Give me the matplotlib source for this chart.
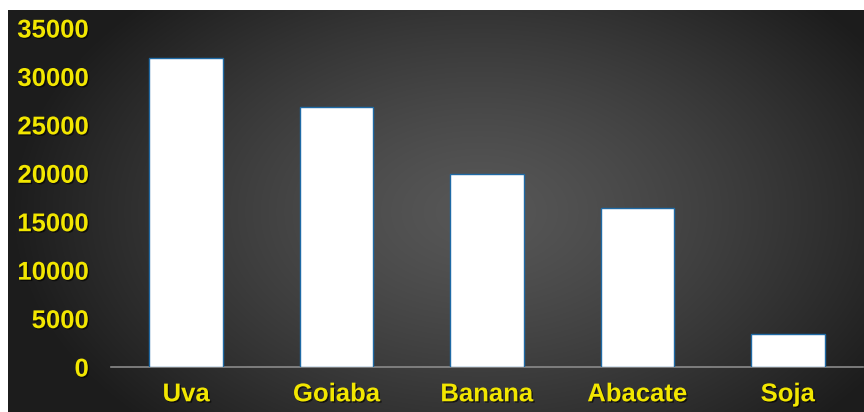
import numpy as np
import matplotlib.pyplot as plt
import matplotlib.patheffects as pe

categorias = ['Uva', 'Goiaba', 'Banana', 'Abacate', 'Soja']
valores = [31900, 26800, 19900, 16450, 3400]
yticks = [0, 5000, 10000, 15000, 20000, 25000, 30000, 35000]

amarelo = '#f2e600'
sombra = [pe.withSimplePatchShadow(offset=(1, -1), shadow_rgbFace='black', alpha=0.6)]

fig = plt.figure(figsize=(8.64, 4.12), dpi=100)
fig.patch.set_facecolor('white')

# fundo com gradiente radial
bg = fig.add_axes([8/864, 0, 1 - 8/864, 1 - 10/412], zorder=0)
ny, nx = 200, 420
yy, xx = np.mgrid[0:ny, 0:nx]
cx, cy = nx * 0.55, ny * 0.5
r = np.sqrt(((xx - cx) / (nx * 0.55))**2 + ((yy - cy) / (ny * 0.75))**2)
shade = 0.34 - 0.23 * np.clip(r, 0, 1)**1.3
img = np.dstack([shade, shade, shade])
bg.imshow(img, aspect='auto', extent=[0, 1, 0, 1], interpolation='bilinear')
bg.set_axis_off()

ax = fig.add_axes([111/864, 1 - 367/412, 752/864, (367 - 28)/412], zorder=1)
ax.patch.set_alpha(0)

x = np.arange(len(categorias))
ax.bar(x, valores, width=0.49, color='white', edgecolor='#1f6aa5', linewidth=1.0, zorder=3)

ax.set_xlim(-0.5, len(categorias) - 0.5)
ax.set_ylim(0, 35000)
ax.set_yticks(yticks)
ax.set_yticklabels([str(v) for v in yticks])
ax.set_xticks(x)
ax.set_xticklabels(categorias)

for s in ['top', 'right', 'left']:
    ax.spines[s].set_visible(False)
ax.spines['bottom'].set_color('#8a8a8a')
ax.spines['bottom'].set_linewidth(1.2)

ax.tick_params(axis='both', length=0, labelcolor=amarelo)
ax.tick_params(axis='y', pad=16)
ax.tick_params(axis='x', pad=11)
for lbl in ax.get_xticklabels() + ax.get_yticklabels():
    lbl.set_fontfamily('Liberation Sans')
    lbl.set_fontweight('bold')
    lbl.set_fontsize(18.5)
    lbl.set_path_effects(sombra)

fig.savefig('out.png', dpi=100)
